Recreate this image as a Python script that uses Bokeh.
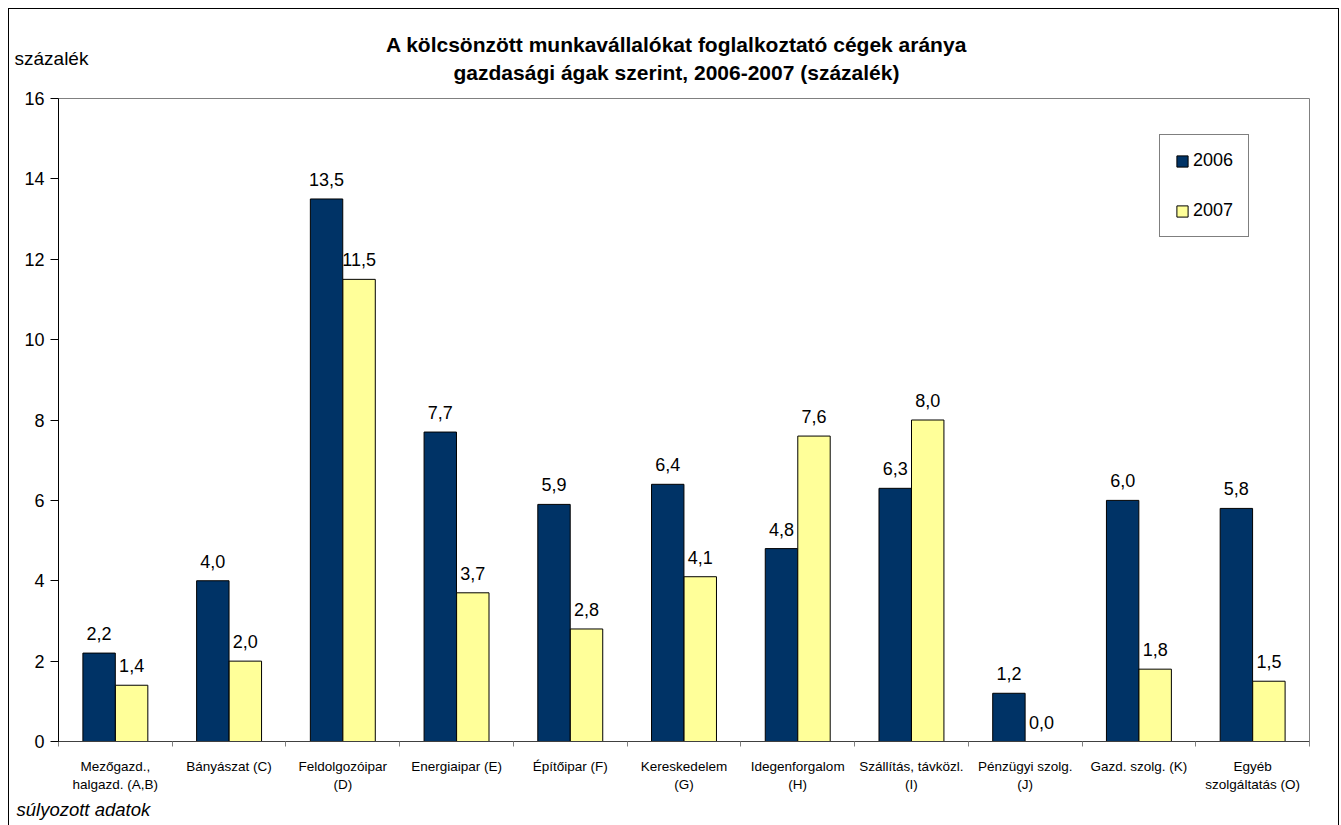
import numpy as np
from bokeh.plotting import figure
from bokeh.models import (ColumnDataSource, Range1d, FixedTicker, Label, Legend, LegendItem)
from bokeh.transform import dodge
from bokeh.embed import file_html
from bokeh.resources import INLINE

categories = ["Mezőgazd.,\nhalgazd. (A,B)", "Bányászat (C)", "Feldolgozóipar\n(D)",
              "Energiaipar (E)", "Építőipar (F)", "Kereskedelem\n(G)", "Idegenforgalom\n(H)",
              "Szállítás, távközl.\n(I)", "Pénzügyi szolg.\n(J)", "Gazd. szolg. (K)",
              "Egyéb\nszolgáltatás (O)"]
v2006 = [2.2, 4.0, 13.5, 7.7, 5.9, 6.4, 4.8, 6.3, 1.2, 6.0, 5.8]
v2007 = [1.4, 2.0, 11.5, 3.7, 2.8, 4.1, 7.6, 8.0, 0.0, 1.8, 1.5]
y_ticks = [0, 2, 4, 6, 8, 10, 12, 14, 16]
title_text = "A kölcsönzött munkavállalókat foglalkoztató cégek aránya\ngazdasági ágak szerint, 2006-2007 (százalék)"

FONT = "Liberation Sans"
n = len(categories)
xc = [i + 0.5 for i in range(n)]
fmt = lambda v: f"{v:.1f}".replace(".", ",")
src = ColumnDataSource(dict(xc=xc, a=v2006, b=v2007,
                            la=[fmt(v) for v in v2006], lb=[fmt(v) for v in v2007]))

W, H = 1331, 818
p = figure(width=W, height=H, output_backend="svg", toolbar_location=None,
           x_range=Range1d(0, n), y_range=Range1d(0, 16),
           min_border_left=49, min_border_right=31, min_border_top=89, min_border_bottom=86)
p.styles = {"margin-left": "8px", "margin-top": "8px", "border": "1px solid black"}
p.outline_line_color = "#808080"
p.outline_line_width = 1
p.xgrid.visible = False
p.ygrid.visible = False

off = 0.143
bw = 0.285
r1 = p.vbar(x=dodge("xc", -off, range=p.x_range), top="a", width=bw, source=src,
            fill_color="#003366", line_color="black", line_width=1)
r2 = p.vbar(x=dodge("xc", off, range=p.x_range), top="b", width=bw, source=src,
            fill_color="#FFFF99", line_color="black", line_width=1)
p.text(x=dodge("xc", -off, range=p.x_range), y="a", text="la", source=src,
       text_align="center", text_baseline="bottom", y_offset=-13,
       text_font={"value": FONT}, text_font_size="18px", text_color="black")
p.text(x=dodge("xc", off, range=p.x_range), y="b", text="lb", source=src,
       text_align="center", text_baseline="bottom", y_offset=-13,
       text_font={"value": FONT}, text_font_size="18px", text_color="black")

xa = p.xaxis[0]
xa.ticker = FixedTicker(ticks=xc, minor_ticks=list(range(n + 1)))
xa.major_label_overrides = {x: c for x, c in zip(xc, categories)}
xa.major_tick_out = 0
xa.major_tick_in = 0
xa.minor_tick_out = 5
xa.minor_tick_in = 0
xa.minor_tick_line_color = "#808080"
xa.axis_line_color = "#404040"
xa.major_label_text_font = FONT
xa.major_label_text_font_size = "13.5px"
xa.major_label_standoff = 12
xa.major_label_text_color = "black"

ya = p.yaxis[0]
ya.ticker = FixedTicker(ticks=y_ticks)
ya.minor_tick_line_color = None
ya.major_tick_out = 8
ya.major_tick_in = 0
ya.axis_line_color = "black"
ya.major_tick_line_color = "black"
ya.major_label_text_font = FONT
ya.major_label_text_font_size = "18px"
ya.major_label_standoff = 6
ya.major_label_text_color = "black"

legend = Legend(items=[LegendItem(label="2006", renderers=[r1]),
                       LegendItem(label="2007", renderers=[r2])],
                location=(1101, 504), orientation="vertical",
                border_line_color="black", border_line_width=1,
                padding=15, spacing=29, margin=0,
                glyph_width=14, glyph_height=14, label_height=20, label_standoff=4,
                label_text_font=FONT, label_text_font_size="18px",
                label_text_color="black")
p.add_layout(legend, "center")

title = Label(x=618, y=40, x_units="screen", y_units="screen", text=title_text,
              text_align="center", text_baseline="middle", text_font=FONT,
              text_font_size="21px", text_font_style="bold", text_line_height=1.25,
              text_color="black")
ylab = Label(x=-44, y=-12, x_units="screen", y_units="screen", text="százalék",
             text_align="left", text_baseline="middle", text_font=FONT,
             text_font_size="19px", text_color="black")
foot = Label(x=-42, y=6, x_units="screen", y_units="screen", text="súlyozott adatok",
             text_align="left", text_baseline="middle", text_font=FONT,
             text_font_size="18.5px", text_font_style="italic", text_color="black")
p.add_layout(title, "above")
p.add_layout(ylab, "above")
p.add_layout(foot, "below")

open("out.html", "w").write(file_html(p, INLINE))
